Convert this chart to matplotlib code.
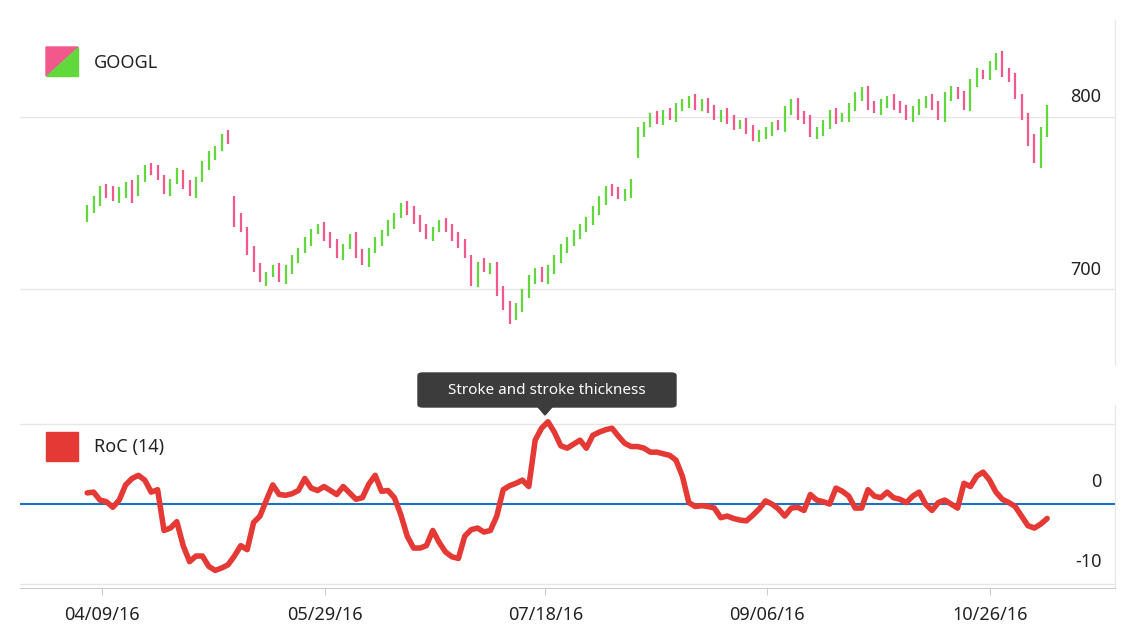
import numpy as np
import matplotlib.pyplot as plt
from matplotlib.patches import Polygon, Rectangle, FancyBboxPatch

# GOOGL daily bars (trading day index 0..150)
closes = [747,752,758,755,753,757,760,752,764,770,768,
          765,757,762,768,760,756,763,772,778,781,788,
          786,738,735,722,712,706,708,712,706,712,718,722,728,733,736,730,726,720,724,730,
          720,716,722,728,732,738,742,748,745,740,735,731,734,738,735,730,726,720,
          704,714,712,713,698,690,682,690,698,706,710,706,712,718,724,728,732,736,740,746,752,758,756,754,756,762,
          792,795,800,798,802,800,806,808,810,806,808,804,800,802,798,794,796,792,788,790,
          792,795,794,804,808,800,798,790,792,796,802,798,800,806,812,815,806,804,808,810,
          806,804,800,804,808,810,806,800,812,816,812,806,820,826,824,830,835,825,822,812,
          800,785,775,792,805]
opens = [741,746,750,759,758,752,755,761,756,764,771,
         770,764,756,763,767,761,755,764,771,777,782,
         790,752,742,734,723,713,704,709,713,705,711,717,723,727,734,737,731,727,719,725,
         731,721,715,723,727,733,737,743,749,746,741,736,730,735,739,736,731,727,
         718,703,716,711,714,700,691,684,689,697,705,711,705,711,717,723,727,731,735,739,745,751,759,757,753,755,
         778,790,796,801,797,803,799,805,807,811,805,809,805,799,803,799,795,797,793,787,
         789,791,796,793,803,809,801,799,789,791,795,803,799,799,805,811,816,807,803,807,
         811,807,805,799,803,807,811,807,799,811,815,813,805,819,825,823,829,836,826,823,
         811,800,788,772,790]
roc = [1.4,1.5,0.5,0.3,-0.4,0.5,2.4,3.2,3.6,3.0,1.5,1.8,-3.3,-3.0,-2.2,-5.2,-7.2,-6.5,-6.5,-7.8,
       -8.3,-8.0,-7.6,-6.5,-5.2,-5.7,-2.3,-1.5,0.5,2.4,1.2,1.1,1.3,1.7,3.2,2.0,1.7,2.2,1.7,1.2,
       2.2,1.4,0.6,0.8,2.5,3.6,1.6,1.7,0.8,-1.3,-4.0,-5.5,-5.5,-5.2,-3.3,-4.8,-6.0,-6.6,-6.8,-4.0,
       -3.2,-3.0,-3.5,-3.3,-1.5,1.8,2.3,2.6,3.0,2.2,8.0,9.5,10.3,9.0,7.3,7.0,7.5,8.0,7.0,8.6,
       9.0,9.3,9.5,8.5,7.6,7.2,7.2,7.0,6.5,6.5,6.3,6.1,5.5,3.5,0.2,-0.3,-0.2,-0.3,-0.5,-1.7,
       -1.5,-1.8,-2.0,-2.1,-1.4,-0.6,0.4,0.0,-0.6,-1.5,-0.5,-0.4,-0.8,1.2,0.5,0.3,0.0,2.0,1.6,1.0,
       -0.5,-0.5,1.8,1.0,0.8,1.5,0.8,0.6,0.2,1.0,1.5,0.0,-0.8,0.2,0.5,0.0,-0.5,2.6,2.2,3.5,
       4.0,3.0,1.5,0.6,0.2,-0.3,-1.5,-2.7,-3.0,-2.5,-1.8]
assert len(closes) == len(opens) == len(roc)

tick_pos = [2.3, 37.2, 71.6, 106.2, 141.1]
tick_labels = ['04/09/16', '05/29/16', '07/18/16', '09/06/16', '10/26/16']

UP = '#63d83c'
DOWN = '#f2588c'
RED = '#e53935'

plt.rcParams['font.family'] = ['Noto Sans', 'DejaVu Sans']
fig = plt.figure(figsize=(11.36, 6.4), dpi=100)
W, H = 1136, 640
ax1 = fig.add_axes([20/W, 1-365/H, 1095/W, 345/H])
ax2 = fig.add_axes([20/W, 1-588/H, 1095/W, 183/H])

x = np.arange(len(closes))
colors = [UP if c >= o else DOWN for o, c in zip(opens, closes)]
lo = np.minimum(opens, closes)
hi = np.maximum(opens, closes)
ax1.vlines(x, lo - 2, hi + 2, colors=colors, linewidth=1.6)
ax1.set_ylim(656, 856)
for v in (700, 800):
    ax1.axhline(v, color='#e6e6e6', linewidth=1, zorder=0)
    ax1.text(1103, v + 6, str(v), transform=ax1.get_yaxis_transform() if False else ax1.transData,
             fontsize=13, ha='right', va='bottom', color='#222222')

ax2.plot(x, roc, color=RED, linewidth=4, solid_joinstyle='round', solid_capstyle='round')
ax2.axhline(0, color='#1a73c0', linewidth=1.5, zorder=0)
for v in (10, -10):
    ax2.axhline(v, color='#e6e6e6', linewidth=1, zorder=0)
ax2.set_ylim(-10.5, 12.4)
for v in (0, -10):
    ax2.text(160.3 - 1.8, v + 1.6, str(v).replace('-', '\u2212') if False else str(v),
             fontsize=13, ha='right', va='bottom', color='#222222')

for ax in (ax1, ax2):
    ax.set_xlim(-10.5, 160.6)
    ax.set_yticks([])
    for s in ax.spines.values():
        s.set_visible(False)
ax1.set_xticks([])
ax2.spines['bottom'].set_visible(True)
ax2.spines['bottom'].set_color('#cccccc')
ax2.spines['right'].set_visible(True)
ax2.spines['right'].set_color('#e6e6e6')
ax1.spines['right'].set_visible(True)
ax1.spines['right'].set_color('#e6e6e6')
ax2.set_xticks(tick_pos)
ax2.set_xticklabels(tick_labels, fontsize=13, color='#222222')
ax2.tick_params(axis='x', length=5, color='#cccccc', pad=8)

# price labels placed right side
for t in ax1.texts:
    t.set_x(158.5)

# legends
tri1 = Polygon([[46/W, 1-47/H], [78/W, 1-47/H], [46/W, 1-76/H]], closed=True,
               transform=fig.transFigure, color=DOWN)
tri2 = Polygon([[78/W, 1-47/H], [78/W, 1-76/H], [46/W, 1-76/H]], closed=True,
               transform=fig.transFigure, color=UP)
fig.patches.extend([tri1, tri2])
fig.text(94/W, 1-63/H, 'GOOGL', fontsize=13, va='center', color='#222222')
fig.patches.append(Rectangle((46/W, 1-461/H), 32/W, 29/H, transform=fig.transFigure, color=RED))
fig.text(94/W, 1-447/H, 'RoC (14)', fontsize=13, va='center', color='#222222')

# tooltip
fig.patches.append(FancyBboxPatch((418/W, 1-407/H), 258/W, 34/H, transform=fig.transFigure,
                                  boxstyle='round,pad=0,rounding_size=0.004', color='#3c3c3c'))
fig.patches.append(Polygon([[538/W, 1-407/H], [552/W, 1-407/H], [545/W, 1-415/H]],
                           transform=fig.transFigure, color='#3c3c3c'))
fig.text(547/W, 1-390/H, 'Stroke and stroke thickness', fontsize=11, color='white',
         ha='center', va='center')

fig.savefig('out.png', dpi=100, facecolor='white')
